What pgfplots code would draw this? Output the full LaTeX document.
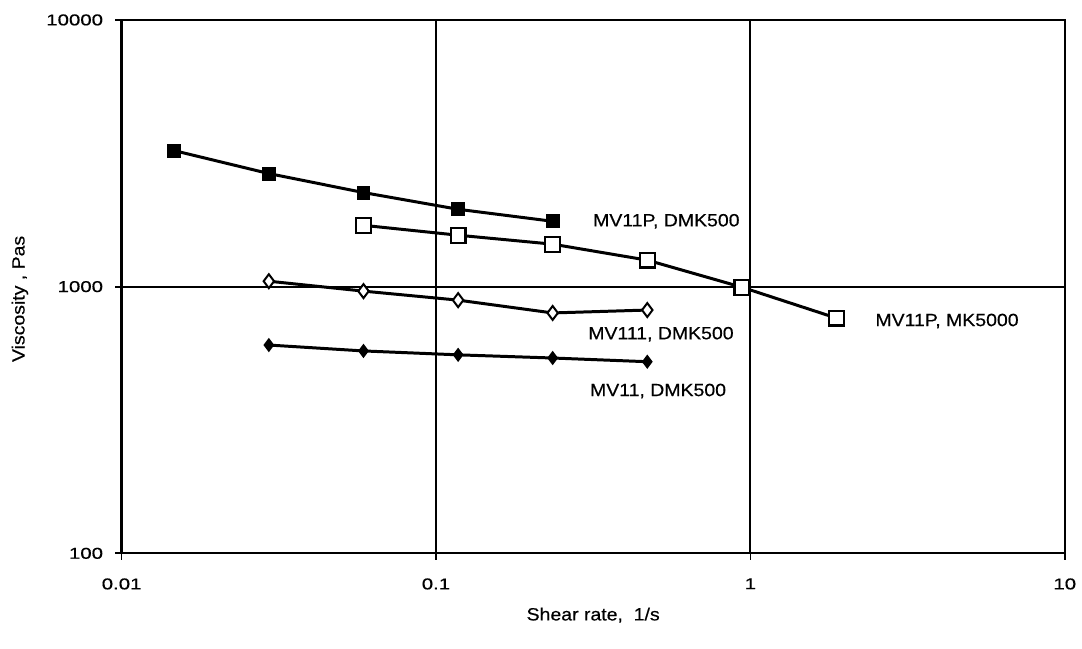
\documentclass[border=0pt]{standalone}
\usepackage{fontspec}
\setmainfont{Liberation Sans}[FakeStretch=1.1, FakeBold=0.4]
\newfontfamily\tickfont{Liberation Sans}[FakeStretch=1.3, FakeBold=0.4]
\usepackage{pgfplots}
\pgfplotsset{compat=1.18}
\begin{document}
\fontsize{7.1bp}{8.5bp}\selectfont
\begin{tikzpicture}
\begin{axis}[
  xmode=log, ymode=log,
  scale only axis,
  width=378.4bp, height=214bp,
  xmin=0.01, xmax=10, ymin=100, ymax=10000,
  xtick={0.01,0.1,1,10}, xticklabels={0.01,0.1,1,10},
  ytick={100,1000,10000}, yticklabels={100,1000,10000},
  xminorticks=false, yminorticks=false,
  tick pos=left,
  grid=major,
  major grid style={black, line width=0.75bp},
  axis line style={black, line width=0.9bp},
  tick align=center,
  major tick length=5bp,
  tick style={black, line width=0.7bp},
  xticklabel style={font=\tickfont\fontsize{6.3bp}{8bp}\selectfont, yshift=-5bp},
  yticklabel style={font=\tickfont\fontsize{6.3bp}{8bp}\selectfont, xshift=-2.4bp},
  xlabel={Shear rate,\ \ 1/s},
  ylabel={Viscosity , Pas},
  xlabel style={font=\fontsize{7.1bp}{8.5bp}\selectfont, at={(rel axis cs:0.5,0)}, anchor=center, yshift=-24.8bp},
  ylabel style={font=\fontsize{7.1bp}{8.5bp}\selectfont, at={(rel axis cs:0,0.477)}, anchor=center, rotate=0, yshift=40.8bp},
  clip=false,
]
% MV11P, DMK500 (filled squares)
\addplot[black, line width=1.2bp, mark=square*, mark size=2.2bp, mark options={solid, fill=black}]
  coordinates {(0.0147,3236) (0.0294,2655) (0.0588,2253) (0.1176,1950) (0.235,1758)};
% MV11P, MK5000 (open squares)
\addplot[black, line width=1.2bp, mark=square*, mark size=3bp, mark options={solid, fill=white, line width=0.9bp}]
  coordinates {(0.0588,1698) (0.1176,1559) (0.235,1443) (0.47,1257) (0.94,995) (1.88,762)};
% MV111, DMK500 (open diamonds)
\addplot[black, line width=1.2bp, mark=diamond*, mark size=2.8bp, mark options={solid, fill=white, line width=0.8bp}]
  coordinates {(0.0294,1048) (0.0588,962) (0.1176,890) (0.235,797) (0.47,817)};
% MV11, DMK500 (filled diamonds)
\addplot[black, line width=1.2bp, mark=diamond*, mark size=1.9bp, mark options={solid, fill=black}]
  coordinates {(0.0294,604) (0.0588,574) (0.1176,555) (0.235,540) (0.47,523)};
\node[anchor=west, inner sep=0pt] at (axis cs:0.315,1758) {MV11P, DMK500};
\node[anchor=west, inner sep=0pt] at (axis cs:2.49,743) {MV11P, MK5000};
\node[anchor=west, inner sep=0pt] at (axis cs:0.304,663) {MV111, DMK500};
\node[anchor=west, inner sep=0pt] at (axis cs:0.308,406) {MV11, DMK500};
\end{axis}
\path[use as bounding box] ([xshift=-48.8bp,yshift=-38bp]current axis.south west) rectangle ([xshift=5.6bp,yshift=8bp]current axis.north east);
\end{tikzpicture}
\end{document}
